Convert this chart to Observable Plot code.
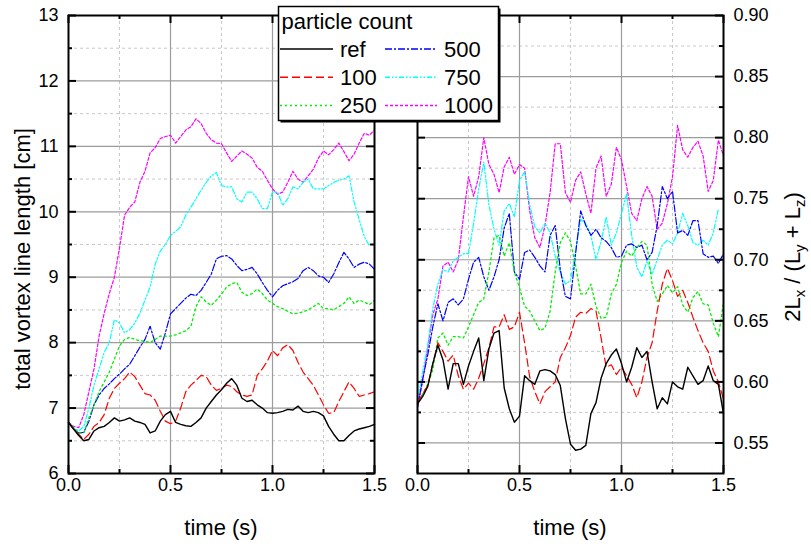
<!DOCTYPE html>
<html>
<head>
<meta charset="utf-8">
<script src="https://cdn.jsdelivr.net/npm/d3@7"></script>
<script src="https://cdn.jsdelivr.net/npm/@observablehq/plot@0.6"></script>
<style>
  html,body{margin:0;padding:0;background:#fff;}
  #wrap{position:relative;width:811px;height:550px;overflow:hidden;background:#fff;}
  #left,#right{position:absolute;top:0;}
  #left{left:0;}
  #right{left:400px;}
</style>
</head>
<body>
<div id="wrap"><div id="left"></div><div id="right"></div></div>
<script>
const FONT = "'Liberation Sans', Arial, Helvetica, sans-serif";

// time stamps (s)
const timeGrid = [0,0.025,0.05,0.075,0.1,0.125,0.15,0.175,0.2,0.225,
  0.25,0.275,0.3,0.325,0.35,0.375,0.4,0.425,0.45,0.475,
  0.5,0.525,0.55,0.575,0.6,0.625,0.65,0.675,0.7,0.725,
  0.75,0.775,0.8,0.825,0.85,0.875,0.9,0.925,0.95,0.975,
  1.0,1.025,1.05,1.075,1.1,1.125,1.15,1.175,1.2,1.225,
  1.25,1.275,1.3,1.325,1.35,1.375,1.4,1.425,1.45,1.475,
  1.5];

// series meta
const seriesNames = ["ref","100","250","500","750","1000"];
const seriesColors = ["#000000","#ff0000","#00ee00","#0000ff","#00ffff","#ff00ff"];
const seriesDash = [null,"8,4","2,3","7,2,2,2","5,2,1.5,2,1.5,2","3,2"];
const seriesWidth = [1.4,1.2,1.3,1.2,1.2,1.2];

// axis ticks
const xMajor = [0,0.5,1.0,1.5];
const xMinor = [0.25,0.75,1.25];
const leftYMajor = [6,7,8,9,10,11,12,13];
const leftYMinor = [6.5,7.5,8.5,9.5,10.5,11.5,12.5];
const rightYMajor = [0.55,0.60,0.65,0.70,0.75,0.80,0.85,0.90];
const rightYMinor = [0.575,0.625,0.675,0.725,0.775,0.825,0.875];

// left panel: total vortex line length [cm]
const leftRef = [6.78,6.68,6.58,6.50,6.52,6.65,6.70,6.72,6.78,6.85,
 6.80,6.82,6.85,6.80,6.78,6.75,6.62,6.65,6.80,6.90,
 6.95,6.78,6.75,6.73,6.72,6.78,6.85,7.00,7.10,7.20,
 7.28,7.38,7.45,7.35,7.15,7.10,7.12,7.05,7.00,6.93,
 6.92,6.93,6.95,6.98,6.97,7.03,6.95,6.93,6.95,6.93,
 6.88,6.72,6.60,6.50,6.50,6.58,6.65,6.68,6.70,6.72,
 6.75];
const left100 = [6.78,6.68,6.60,6.52,6.60,6.72,6.78,6.90,7.15,7.30,
 7.38,7.45,7.55,7.48,7.35,7.22,7.20,7.12,6.95,6.80,
 6.76,6.80,7.00,7.25,7.35,7.42,7.50,7.48,7.35,7.27,
 7.30,7.35,7.33,7.25,7.20,7.18,7.20,7.50,7.60,7.72,
 7.88,7.80,7.92,7.97,7.88,7.70,7.55,7.45,7.35,7.20,
 7.05,6.92,6.93,7.10,7.25,7.40,7.30,7.18,7.20,7.22,
 7.25];
const left250 = [6.78,6.70,6.62,6.62,6.85,7.05,7.25,7.40,7.55,7.75,
 7.95,8.05,8.08,8.05,8.03,8.02,8.00,8.05,8.10,8.10,
 8.10,8.12,8.15,8.18,8.25,8.55,8.70,8.62,8.57,8.65,
 8.74,8.85,8.90,8.92,8.77,8.72,8.75,8.82,8.75,8.65,
 8.60,8.55,8.52,8.48,8.44,8.45,8.47,8.50,8.55,8.60,
 8.52,8.52,8.50,8.55,8.60,8.70,8.60,8.65,8.62,8.58,
 8.65];
const left500 = [6.78,6.68,6.62,6.63,6.80,7.05,7.20,7.30,7.37,7.45,
 7.52,7.60,7.67,7.80,7.93,8.05,8.25,8.00,7.90,8.15,
 8.44,8.52,8.60,8.68,8.74,8.72,8.80,8.92,9.05,9.28,
 9.32,9.33,9.28,9.18,9.10,9.12,9.15,9.05,8.92,8.80,
 8.70,8.80,8.87,8.90,8.93,8.98,9.10,9.15,9.10,9.02,
 9.00,8.92,9.05,9.22,9.38,9.28,9.15,9.20,9.23,9.20,
 9.12];
const left750 = [6.78,6.70,6.65,6.72,7.00,7.35,7.60,7.85,8.00,8.35,
 8.30,8.15,8.20,8.30,8.45,8.65,8.85,9.20,9.40,9.50,
 9.64,9.70,9.77,9.95,10.07,10.20,10.33,10.45,10.55,10.60,
 10.40,10.38,10.38,10.20,10.15,10.30,10.30,10.20,10.05,10.05,
 10.30,10.30,10.10,10.20,10.38,10.35,10.45,10.50,10.35,10.35,
 10.35,10.40,10.45,10.48,10.50,10.55,10.15,9.88,9.62,9.48,
 null];
const left1000 = [6.78,6.72,6.70,6.90,7.25,7.60,8.10,8.45,8.75,9.00,
 9.45,9.95,10.07,10.15,10.45,10.62,10.90,10.98,11.12,11.15,
 11.17,11.05,11.15,11.25,11.30,11.42,11.35,11.20,11.10,11.05,
 11.04,10.90,10.77,10.85,10.93,10.88,10.82,10.68,10.62,10.48,
 10.35,10.27,10.30,10.45,10.62,10.50,10.45,10.55,10.65,10.82,
 10.93,10.87,10.95,11.05,10.92,10.78,10.88,11.05,11.20,11.17,
 11.25];

// right panel: 2Lx / (Ly + Lz)
const rightRef = [0.582,0.588,0.596,0.615,0.630,0.618,0.594,0.615,0.615,0.598,
 0.613,0.625,0.636,0.601,0.627,0.640,0.642,0.595,0.578,0.567,
 0.572,0.605,0.601,0.598,0.609,0.610,0.609,0.606,0.597,0.570,
 0.549,0.544,0.545,0.548,0.574,0.583,0.603,0.615,0.622,0.627,
 0.615,0.600,0.612,0.628,0.620,0.625,0.600,0.578,0.587,0.582,
 0.600,0.596,0.594,0.612,0.605,0.598,0.601,0.613,0.601,0.598,
 0.574];
const right100 = [0.583,0.590,0.597,0.615,0.632,0.625,0.617,0.622,0.605,0.594,
 0.599,0.594,0.603,0.615,0.628,0.645,0.645,0.655,0.643,0.645,
 0.657,0.632,0.604,0.592,0.582,0.592,0.596,0.600,0.620,0.628,
 0.638,0.653,0.657,0.656,0.660,0.658,0.636,0.612,0.614,0.606,
 0.612,0.605,0.598,0.587,0.600,0.620,0.632,0.658,0.680,0.693,
 0.683,0.670,0.675,0.665,0.653,0.642,0.632,0.625,0.609,0.600,
 0.586];
const right250 = [0.582,0.590,0.598,0.610,0.636,0.640,0.630,0.637,0.637,0.636,
 0.645,0.655,0.665,0.668,0.690,0.718,0.720,0.703,0.714,0.690,
 0.677,0.662,0.658,0.650,0.642,0.644,0.658,0.690,0.714,0.722,
 0.715,0.695,0.672,0.672,0.680,0.662,0.652,0.653,0.672,0.680,
 0.698,0.707,0.703,0.710,0.715,0.712,0.680,0.666,0.672,0.679,
 0.673,0.678,0.663,0.657,0.669,0.674,0.664,0.663,0.648,0.637,
 0.665];
const right500 = [0.579,0.602,0.622,0.645,0.664,0.650,0.665,0.668,0.663,0.668,
 0.684,0.698,0.702,0.686,0.675,0.686,0.700,0.726,0.738,0.690,
 0.684,0.706,0.708,0.702,0.695,0.690,0.720,0.728,0.692,0.670,
 0.668,0.705,0.740,0.728,0.720,0.725,0.718,0.715,0.710,0.702,
 0.703,0.712,0.713,0.710,0.712,0.700,0.706,0.728,0.760,0.750,
 0.756,0.722,0.724,0.720,0.732,0.732,0.705,0.702,0.703,0.697,
 0.705];
const right750 = [0.584,0.608,0.630,0.660,0.680,0.692,0.690,0.699,0.702,0.705,
 0.705,0.730,0.758,0.780,0.745,0.725,0.712,0.740,0.746,0.735,
 0.765,0.772,0.745,0.727,0.722,0.730,0.722,0.703,0.690,0.680,
 0.683,0.708,0.733,0.730,0.720,0.700,0.715,0.735,0.712,0.722,
 0.738,0.754,0.720,0.694,0.686,0.699,0.688,0.700,0.712,0.716,
 0.713,0.722,0.738,0.728,0.714,0.712,0.716,0.712,0.722,0.742,
 null];
const right1000 = [0.580,0.600,0.628,0.655,0.668,0.695,0.698,0.690,0.700,0.735,
 0.768,0.752,0.768,0.800,0.778,0.770,0.755,0.776,0.784,0.770,
 0.778,0.775,0.740,0.718,0.710,0.728,0.755,0.795,0.795,0.755,
 0.747,0.765,0.772,0.754,0.738,0.775,0.785,0.752,0.762,0.792,
 0.782,0.760,0.738,0.732,0.750,0.760,0.752,0.725,0.730,0.746,
 0.768,0.810,0.790,0.784,0.792,0.797,0.785,0.756,0.765,0.798,
 0.785];

const leftValues = [leftRef,left100,left250,left500,left750,left1000];
const rightValues = [rightRef,right100,right250,right500,right750,right1000];

const H = 550, MT = 15, MB = 77;

function panel({width, marginLeft, marginRight, yDomain, yMajor, yMinor, yFormat, yAnchor, tickPad, values}) {
  const innerW = width - marginLeft - marginRight;
  const innerH = H - MT - MB;
  const inside = d => d > yDomain[0] + 1e-9 && d < yDomain[1] - 1e-9;
  const marks = [
    Plot.gridX(xMinor, {stroke:"#c8c8c8", strokeOpacity:1, strokeWidth:1, strokeDasharray:"3,3"}),
    Plot.gridY(yMinor.filter(inside), {stroke:"#c8c8c8", strokeOpacity:1, strokeWidth:1, strokeDasharray:"3,3"}),
    Plot.gridX(xMajor.slice(1,-1), {stroke:"#9c9c9c", strokeOpacity:1, strokeWidth:1.2}),
    Plot.gridY(yMajor.filter(inside), {stroke:"#9c9c9c", strokeOpacity:1, strokeWidth:1.2})
  ];
  for (let i = values.length - 1; i >= 0; i--) {
    const rows = timeGrid.map((t, j) => ({t, v: values[i][j], s: seriesNames[i]}));
    const opts = {x:"t", y:"v", stroke: seriesColors[i], strokeWidth: seriesWidth[i]};
    if (seriesDash[i]) opts.strokeDasharray = seriesDash[i];
    marks.push(Plot.line(rows, opts));
  }
  marks.push(Plot.frame({stroke:"#000", strokeWidth:2}));
  const tk = {stroke:"#000", strokeWidth:2};
  marks.push(Plot.tickY(yMajor, {y:d=>d, ...tk, insetRight: innerW - 8}));
  marks.push(Plot.tickY(yMajor, {y:d=>d, ...tk, insetLeft: innerW - 8}));
  marks.push(Plot.tickY(yMinor, {y:d=>d, ...tk, insetRight: innerW - 4}));
  marks.push(Plot.tickY(yMinor, {y:d=>d, ...tk, insetLeft: innerW - 4}));
  marks.push(Plot.tickX(xMajor, {x:d=>d, ...tk, insetTop: innerH - 8}));
  marks.push(Plot.tickX(xMajor, {x:d=>d, ...tk, insetBottom: innerH - 8}));
  marks.push(Plot.tickX(xMinor, {x:d=>d, ...tk, insetTop: innerH - 4}));
  marks.push(Plot.tickX(xMinor, {x:d=>d, ...tk, insetBottom: innerH - 4}));
  marks.push(Plot.axisY(yMajor, {anchor: yAnchor, tickSize:0, tickPadding: tickPad, tickFormat: yFormat, fontSize: 18, label: null}));
  marks.push(Plot.axisX(xMajor, {anchor:"bottom", tickSize:0, tickPadding:5, tickFormat: d3.format(".1f"), fontSize: 18, label: null}));
  return Plot.plot({
    width, height: H, marginLeft, marginRight, marginTop: MT, marginBottom: MB,
    x: {domain: [0, 1.5]},
    y: {domain: yDomain},
    style: {fontFamily: FONT, background: "transparent", overflow: "visible", color: "#000"},
    marks
  });
}

const left = panel({width:400, marginLeft:68, marginRight:26, yDomain:[6,13], yMajor:leftYMajor, yMinor:leftYMinor,
  yFormat: d => String(d), yAnchor:"left", tickPad:10, values:leftValues});
const right = panel({width:411, marginLeft:17, marginRight:88, yDomain:[0.525,0.90], yMajor:rightYMajor, yMinor:rightYMinor,
  yFormat: d3.format(".2f"), yAnchor:"right", tickPad:10, values:rightValues});

document.getElementById("left").appendChild(left);
document.getElementById("right").appendChild(right);

// axis titles
const LS = 22;
d3.select(left).append("text").attr("x", 221).attr("y", 535).attr("text-anchor","middle")
  .attr("font-family", FONT).attr("font-size", LS).attr("fill","#000").text("time (s)");
d3.select(left).append("text").attr("transform","translate(30,259) rotate(-90)").attr("text-anchor","middle")
  .attr("font-family", FONT).attr("font-size", LS).attr("fill","#000").text("total vortex line length [cm]");
d3.select(right).append("text").attr("x", 170).attr("y", 535).attr("text-anchor","middle")
  .attr("font-family", FONT).attr("font-size", LS).attr("fill","#000").text("time (s)");
const rl = d3.select(right).append("text").attr("transform","translate(400,257) rotate(-90)").attr("text-anchor","middle")
  .attr("font-family", FONT).attr("font-size", LS).attr("fill","#000");
rl.append("tspan").text("2L");
rl.append("tspan").attr("font-size",15).attr("dy",5).text("x");
rl.append("tspan").attr("dy",-5).text(" / (L");
rl.append("tspan").attr("font-size",15).attr("dy",5).text("y");
rl.append("tspan").attr("dy",-5).text(" + L");
rl.append("tspan").attr("font-size",15).attr("dy",5).text("z");
rl.append("tspan").attr("dy",-5).text(")");

// legend
const lg = d3.select("#wrap").append("svg").attr("width",811).attr("height",550)
  .style("position","absolute").style("left","0px").style("top","0px");
lg.append("rect").attr("x",280.5).attr("y",8.5).attr("width",220).attr("height",114).attr("fill","#000");
lg.append("rect").attr("x",278.5).attr("y",6.5).attr("width",220).attr("height",114)
  .attr("fill","#fff").attr("stroke","#000").attr("stroke-width",1.5);
lg.append("text").attr("x",281.5).attr("y",28.5).attr("font-family",FONT).attr("font-size",LS).attr("fill","#000").text("particle count");
const rowY = [49, 77.3, 105.5];
seriesNames.forEach((name, i) => {
  const col = Math.floor(i / 3), row = i % 3;
  const x0 = col === 0 ? 280 : 385, x1 = col === 0 ? 333 : 437, tx = col === 0 ? 340 : 444;
  const ln = lg.append("line").attr("x1",x0).attr("x2",x1).attr("y1",rowY[row]).attr("y2",rowY[row])
    .attr("stroke", seriesColors[i]).attr("stroke-width", 1.6);
  if (seriesDash[i]) ln.attr("stroke-dasharray", seriesDash[i]);
  lg.append("text").attr("x",tx).attr("y",rowY[row]+7.5).attr("font-family",FONT).attr("font-size",LS)
    .attr("fill","#000").text(name);
});
</script>
</body>
</html>
